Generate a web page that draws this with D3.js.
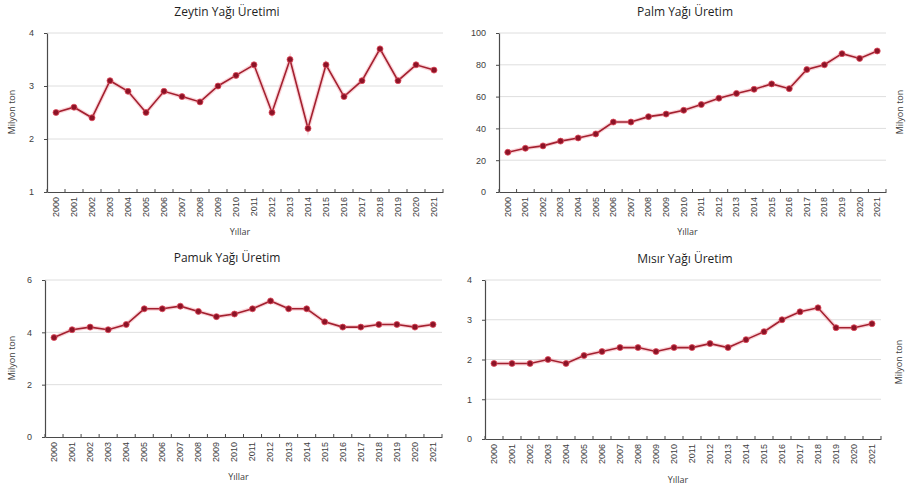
<!DOCTYPE html>
<html>
<head>
<meta charset="utf-8">
<script src="https://cdn.jsdelivr.net/npm/d3@7"></script>
<style>
  html, body { margin: 0; padding: 0; background: #fff; }
  svg { display: block; font-family: "Open Sans", "Liberation Sans", sans-serif; }
</style>
</head>
<body>
<svg id="chart" width="907" height="494"></svg>
<script>
// ---- Data ----
const years = ["2000","2001","2002","2003","2004","2005","2006","2007","2008","2009","2010",
               "2011","2012","2013","2014","2015","2016","2017","2018","2019","2020","2021"];

const zeytinValues = [2.5, 2.6, 2.4, 3.1, 2.9, 2.5, 2.9, 2.8, 2.7, 3.0, 3.2,
                      3.4, 2.5, 3.5, 2.2, 3.4, 2.8, 3.1, 3.7, 3.1, 3.4, 3.3];
const palmValues   = [25, 27.5, 29, 32, 34, 36.5, 44, 44, 47.4, 49, 51.4,
                      55, 59, 62, 64.6, 68, 65, 77, 80, 87, 84, 88.7];
const pamukValues  = [3.8, 4.1, 4.2, 4.1, 4.3, 4.9, 4.9, 5.0, 4.8, 4.6, 4.7,
                      4.9, 5.2, 4.9, 4.9, 4.4, 4.2, 4.2, 4.3, 4.3, 4.2, 4.3];
const misirValues  = [1.9, 1.9, 1.9, 2.0, 1.9, 2.1, 2.2, 2.3, 2.3, 2.2, 2.3,
                      2.3, 2.4, 2.3, 2.5, 2.7, 3.0, 3.2, 3.3, 2.8, 2.8, 2.9];

const zeytinTicks = [1, 2, 3, 4];
const palmTicks   = [0, 20, 40, 60, 80, 100];
const pamukTicks  = [0, 2, 4, 6];
const misirTicks  = [0, 1, 2, 3, 4];

const titles = ["Zeytin Yağı Üretimi", "Palm Yağı Üretim", "Pamuk Yağı Üretim", "Mısır Yağı Üretim"];
const yTitle = "Milyon ton";
const xTitle = "Yıllar";

// ---- Layout ----
const panels = [
  { values: zeytinValues, ticks: zeytinTicks, title: titles[0],
    left: 47, right: 443, top: 33, bottom: 192, titleY: 13, titleX: 227,
    yTitleX: 13, yTitleY: 112, xTitleY: 233 },
  { values: palmValues, ticks: palmTicks, title: titles[1],
    left: 499, right: 886, top: 33, bottom: 192, titleY: 13, titleX: 685,
    yTitleX: 901, yTitleY: 112, xTitleY: 233 },
  { values: pamukValues, ticks: pamukTicks, title: titles[2],
    left: 45, right: 442, top: 280, bottom: 437, titleY: 259, titleX: 227,
    yTitleX: 13, yTitleY: 358, xTitleY: 478 },
  { values: misirValues, ticks: misirTicks, title: titles[3],
    left: 485, right: 881, top: 280, bottom: 439, titleY: 260, titleX: 685,
    yTitleX: 900, yTitleY: 362, xTitleY: 481 }
];

const svg = d3.select("#chart");
const textColor = "#404040";
const axisColor = "#4a4a4a";

panels.forEach(p => {
  const g = svg.append("g");
  const x = d3.scaleBand().domain(years).range([p.left, p.right]).paddingInner(0).paddingOuter(0);
  const y = d3.scaleLinear()
    .domain([d3.min(p.ticks), d3.max(p.ticks)])
    .range([p.bottom, p.top]);

  // gridlines
  g.append("g")
    .selectAll("line")
    .data(p.ticks.slice(1))
    .join("line")
    .attr("x1", p.left).attr("x2", p.right)
    .attr("y1", d => y(d)).attr("y2", d => y(d))
    .attr("stroke", "#dedede").attr("stroke-width", 1);

  // y axis
  const yAxis = g.append("g")
    .attr("transform", `translate(${p.left},0)`)
    .call(d3.axisLeft(y).tickValues(p.ticks).tickSize(3).tickSizeOuter(0).tickPadding(10).tickFormat(d3.format("d")));
  yAxis.select(".domain").attr("stroke", axisColor).attr("stroke-width", 1.2);
  yAxis.selectAll(".tick line").attr("stroke", axisColor);
  yAxis.selectAll("text").attr("fill", textColor).attr("font-size", 9);

  // x axis
  const xAxis = g.append("g")
    .attr("transform", `translate(0,${p.bottom})`)
    .call(d3.axisBottom(x).tickSize(0).tickPadding(5));
  xAxis.select(".domain").attr("stroke", axisColor).attr("stroke-width", 1.2);
  xAxis.selectAll(".tick text")
    .attr("fill", textColor).attr("font-size", 9)
    .attr("transform", "rotate(-90)")
    .attr("text-anchor", "end")
    .attr("x", 0).attr("y", 0)
    .attr("dx", "-5").attr("dy", "0.32em");
  // tick marks at category boundaries
  const boundaries = years.map(d => x(d)).concat([p.right]);
  g.append("g")
    .selectAll("line")
    .data(boundaries)
    .join("line")
    .attr("x1", d => d).attr("x2", d => d)
    .attr("y1", p.bottom - 3).attr("y2", p.bottom)
    .attr("stroke", axisColor).attr("stroke-width", 1);

  // line
  const line = d3.line()
    .x((d, i) => x(years[i]) + x.bandwidth() / 2)
    .y(d => y(d));
  g.append("path").datum(p.values)
    .attr("d", line).attr("fill", "none")
    .attr("stroke", "#f08090").attr("stroke-opacity", 0.35).attr("stroke-width", 4);
  g.append("path").datum(p.values)
    .attr("d", line).attr("fill", "none")
    .attr("stroke", "#a3202f").attr("stroke-width", 1.6);

  // markers
  g.append("g")
    .selectAll("circle")
    .data(p.values)
    .join("circle")
    .attr("cx", (d, i) => x(years[i]) + x.bandwidth() / 2)
    .attr("cy", d => y(d))
    .attr("r", 3)
    .attr("fill", "#8c1326")
    .attr("stroke", "#e04a5c").attr("stroke-width", 0.8);

  // title
  g.append("text")
    .attr("x", p.titleX).attr("y", p.titleY)
    .attr("text-anchor", "middle").attr("dominant-baseline", "middle")
    .attr("font-size", 12).attr("fill", "#1f1f1f")
    .text(p.title);

  // x title
  g.append("text")
    .attr("x", (p.left + p.right) / 2 - 5).attr("y", p.xTitleY)
    .attr("text-anchor", "middle").attr("dominant-baseline", "middle")
    .attr("font-size", 9).attr("fill", textColor)
    .text(xTitle);

  // y title
  g.append("text")
    .attr("transform", `translate(${p.yTitleX},${p.yTitleY}) rotate(-90)`)
    .attr("text-anchor", "middle").attr("dominant-baseline", "middle")
    .attr("font-size", 9).attr("fill", textColor)
    .text(yTitle);
});
</script>
</body>
</html>
